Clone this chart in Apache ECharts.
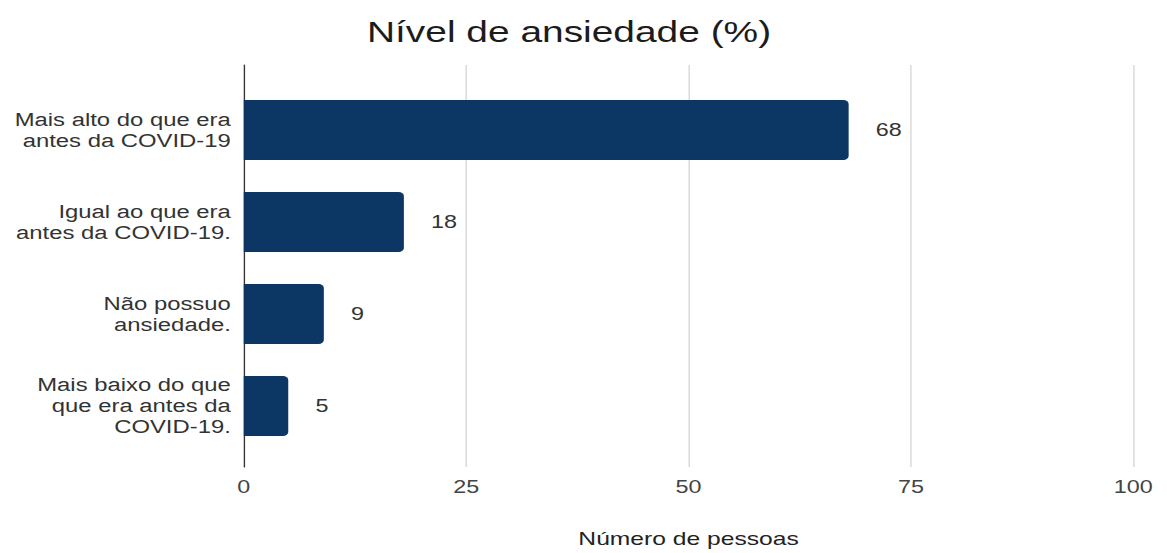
<!DOCTYPE html>
<html>
<head>
<meta charset="utf-8">
<title>Nível de ansiedade (%)</title>
<script src="https://cdn.jsdelivr.net/npm/echarts@6/dist/echarts.min.js"></script>
<style>
  html, body { margin: 0; padding: 0; background: #ffffff; overflow: hidden; }
  /* the chart is laid out on a narrower canvas and widened to fill the page */
  #chart { width: 900px; height: 553px; transform: scale(1.29667, 1); transform-origin: 0 0; }
</style>
</head>
<body>
<div id="chart"></div>
<script>
const categories = [
  'Mais alto do que era\nantes da COVID-19',
  'Igual ao que era\nantes da COVID-19.',
  'Não possuo\nansiedade.',
  'Mais baixo do que\nque era antes da\nCOVID-19.'
];
const values = [68, 18, 9, 5];
const axisMin = 0;
const axisMax = 100;
const axisStep = 25;

const FONT = '"Liberation Sans", Arial, sans-serif';
const chart = echarts.init(document.getElementById('chart'), null, { renderer: 'svg' });

chart.setOption({
  backgroundColor: '#ffffff',
  animation: false,
  title: {
    text: 'Nível de ansiedade (%)',
    left: 278,
    top: 12,
    textStyle: { fontFamily: FONT, fontSize: 30, fontWeight: 'normal', color: '#1c1c1c' }
  },
  grid: [
    // bars
    { left: 188, right: 26, top: 84, height: 368, containLabel: false },
    // value axis, gridlines and baseline
    { left: 188, right: 26, top: 65, height: 404, containLabel: false }
  ],
  xAxis: [
    { gridIndex: 0, type: 'value', min: axisMin, max: axisMax, interval: axisStep, show: false },
    {
      gridIndex: 1, type: 'value', min: axisMin, max: axisMax, interval: axisStep,
      name: 'Número de pessoas', nameLocation: 'middle', nameGap: 62,
      nameTextStyle: { fontFamily: FONT, fontSize: 19, color: '#222' },
      axisLine: { show: false },
      axisTick: { show: false },
      axisLabel: { margin: 11, fontFamily: FONT, fontSize: 18, color: '#444' },
      splitLine: { show: true, lineStyle: { color: '#d4d4d4', width: 1 } }
    }
  ],
  yAxis: [
    {
      gridIndex: 0, type: 'category', data: categories, inverse: true,
      axisLine: { show: false },
      axisTick: { show: false },
      axisLabel: {
        margin: 10, fontFamily: FONT, fontSize: 18.4, lineHeight: 21,
        color: '#333', align: 'right'
      }
    },
    {
      gridIndex: 1, type: 'value', min: 0, max: 1,
      axisLine: { show: true, lineStyle: { color: '#333', width: 1 } },
      axisTick: { show: false },
      axisLabel: { show: false },
      splitLine: { show: false }
    }
  ],
  series: [
    {
      type: 'bar',
      xAxisIndex: 0,
      yAxisIndex: 0,
      data: values,
      barCategoryGap: '35%',
      z: 3,
      itemStyle: { color: '#0c3764', borderRadius: [0, 4, 4, 0] },
      label: {
        show: true, position: 'right', distance: 21,
        fontFamily: FONT, fontSize: 18, color: '#333'
      }
    }
  ]
});
</script>
</body>
</html>
